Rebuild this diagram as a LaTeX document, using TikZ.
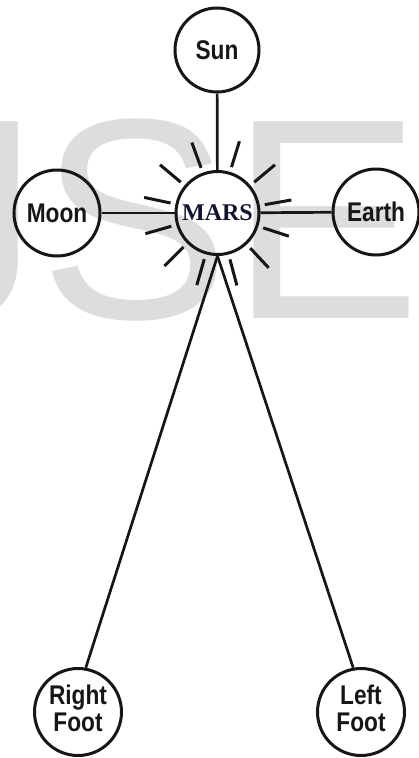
\documentclass[tikz,border=0pt]{standalone}
\usepackage{fontspec}
\usetikzlibrary{calc}
\newfontfamily\lblfont{Liberation Sans}
\newfontfamily\marsfont{Liberation Serif}
\newcommand{\sqz}[1]{\scalebox{0.84}[1]{#1}}
\definecolor{wm}{RGB}{221,221,221}
\definecolor{ink}{RGB}{22,22,22}
\definecolor{marsink}{RGB}{18,20,48}
\begin{document}
\begin{tikzpicture}[x=1pt,y=-1pt,
  planet/.style={circle,draw=ink,line width=3pt,minimum size=84pt,inner sep=0pt,
    text=ink,font=\lblfont\bfseries\fontsize{27}{27}\selectfont},
  bigplanet/.style={planet,minimum size=86pt},
  link/.style={draw=ink,line width=2.7pt},
  ray/.style={draw=ink,line width=3pt},
  wmark/.style={inner sep=0pt,outer sep=0pt,anchor=base west,text=wm,
    font=\lblfont\fontsize{286}{286}\selectfont}]
\useasboundingbox (0,0) rectangle (419,758);
% watermark
\begin{scope}
\clip (0,0) rectangle (419,758);
\node[wmark] (wj) at (-103.4,318) {J};
\node[wmark] (ws) at (39.6,318) {S};
\node[wmark] (we) at (230.4,318) {E};
\end{scope}
% planets
\node[planet] (sun) at (217,50) {\sqz{Sun}};
\node[planet,minimum size=83pt,font=\marsfont\bfseries\fontsize{24}{24}\selectfont,text=marsink] (mars) at (217.5,213) {MARS};
\node[bigplanet] (moon) at (57,213) {\sqz{Moon}};
\node[bigplanet] (earth) at (376,212) {\sqz{Earth}};
\node[bigplanet,minimum size=87pt] (rf) at (78,712) {\sqz{\begin{tabular}{@{}c@{}}Right\\Foot\end{tabular}}};
\node[bigplanet,minimum size=87pt] (lf) at (361,712) {\sqz{\begin{tabular}{@{}c@{}}Left\\Foot\end{tabular}}};
% connectors
\draw[link] (sun) -- (mars);
\draw[link] (moon) -- (mars);
\draw[link] (mars) -- (earth);
\draw[link] (mars.south) -- (rf.80);
\draw[link] (mars.south) -- (lf.100);
% rays
\foreach \a in {10,40,73,110,140,168,196,225,254,285,313,342}
  \draw[ray] ($(mars.center)+(\a:48pt)$) -- ($(mars.center)+(\a:75pt)$);
\end{tikzpicture}
\end{document}
